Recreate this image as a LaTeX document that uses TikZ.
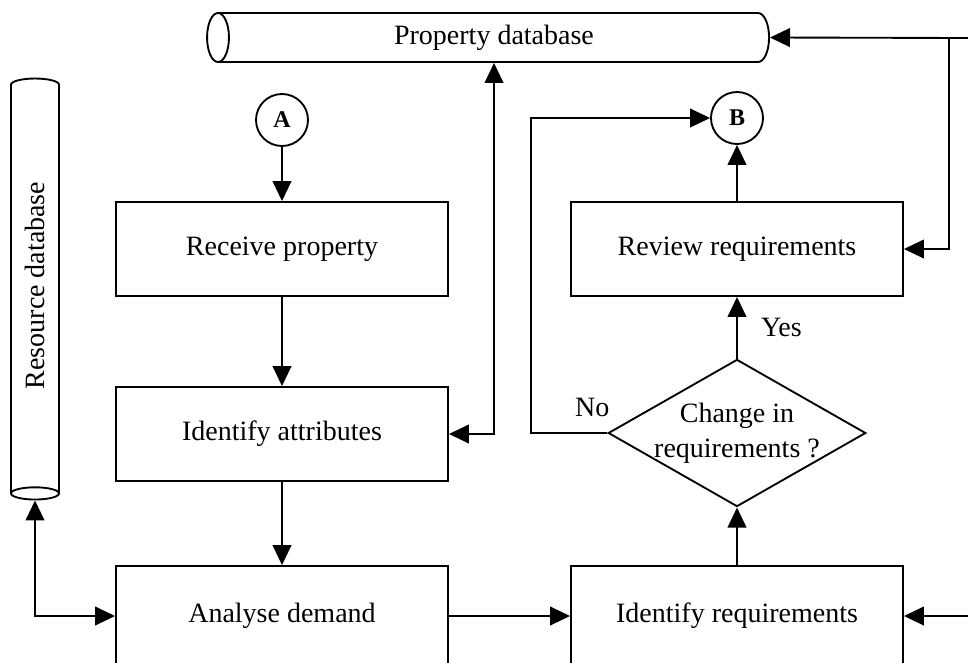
\documentclass[tikz,border=0pt]{standalone}
\usepackage{fontspec}
\setmainfont{Liberation Serif}
\usetikzlibrary{shapes.geometric, arrows.meta}

\begin{document}
\begin{tikzpicture}[x=0.75pt, y=-0.75pt, line width=1.4pt,
  font=\fontsize{21}{26}\selectfont, >={Triangle[length=15pt, width=14pt]},
  proc/.style = {draw, rectangle, minimum width=249pt, minimum height=70.5pt},
  con/.style = {draw, circle, minimum size=39pt, inner sep=0pt, font=\fontsize{18}{20}\selectfont\bfseries},
  dec/.style = {draw, diamond, aspect=1.75, inner sep=-1.8pt, minimum width=193pt, minimum height=110pt, align=center},
  db/.style = {draw, cylinder, inner sep=0pt}]
  \useasboundingbox (0,0) rectangle (968,662);

  % databases
  \node[db, shape border rotate=180, aspect=0.86, minimum height=421.5pt, minimum width=36.75pt] (propdb) at (494,37.5) {Property database};
  \node[db, rotate=90, shape border rotate=180, aspect=0.62, minimum height=315.75pt, minimum width=36pt] (resdb) at (35,285.5) {Resource database};

  % left column
  \node[con] (A) at (282,120) {A};
  \node[proc] (recv) at (282,249) {Receive property};
  \node[proc] (attr) at (282,434) {Identify attributes};
  \node[proc, minimum height=75pt] (demand) at (282,616) {Analyse demand};

  % right column
  \node[con] (B) at (737,118) {B};
  \node[proc] (review) at (737,249) {Review requirements};
  \node[dec] (change) at (737,433) {Change in\\requirements ?};
  \node[proc, minimum height=75pt] (req) at (737,616) {Identify requirements};

  % free ends at the right edge
  \coordinate (rtop) at (968,38);
  \coordinate (rjoin) at (949,38);
  \coordinate (rbot) at (968,616);

  \draw[->] (A) -- (recv);
  \draw[->] (recv) -- (attr);
  \draw[->] (attr) -- (demand);
  \draw[->] (demand) -- (req);
  \draw[->] (req) -- (change);
  \draw[->] (change) -- node[right, xshift=14pt] {Yes} (review);
  \draw[->] (review) -- (B);
  \draw[->] (change.west) node[above left, xshift=5.5pt, yshift=8pt] {No} -- ++(-76,0) |- (B.west);
  \draw[<->] (propdb.south) |- (attr.east);
  \draw[<->] (resdb.west) |- (demand.west);
  \draw[->] (rtop) -- (propdb.east);
  \draw[->] (rjoin) |- (review.east);
  \draw[->] (rbot) -- (req.east);
\end{tikzpicture}
\end{document}
